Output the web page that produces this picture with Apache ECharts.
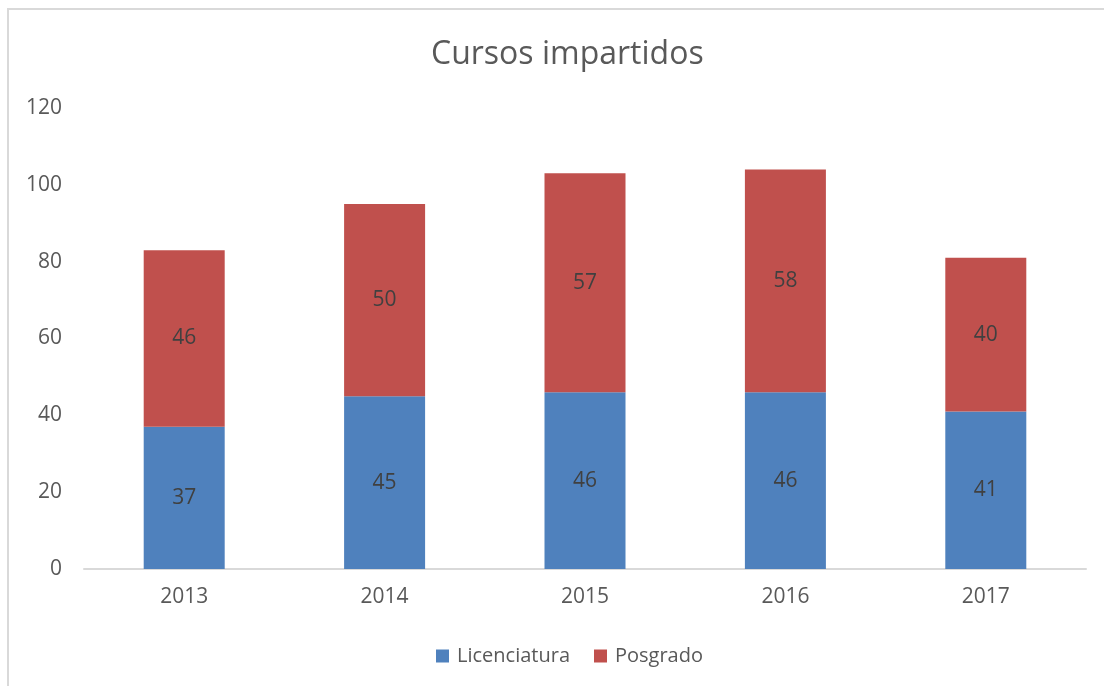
<!DOCTYPE html>
<html lang="es">
<head>
  <meta charset="utf-8"/>
  <title>Cursos impartidos</title>
  <script src="https://cdn.jsdelivr.net/npm/echarts@6/dist/echarts.min.js"></script>
  <style>
    html, body { margin: 0; padding: 0; background: #fff; }
  </style>
</head>
<body>
<div id="main" style="width: 1104px;height: 686px"></div>
<script type="text/javascript">
  // datos del gráfico
  var years = ['2013', '2014', '2015', '2016', '2017'];
  var licenciatura = [37, 45, 46, 46, 41];
  var posgrado = [46, 50, 57, 58, 40];
  var yTicks = [0, 20, 40, 60, 80, 100, 120];

  var font = '"Open Sans", "Liberation Sans", sans-serif';
  var myChart = echarts.init(document.getElementById('main'));

  var labelStyle = {
    show: true,
    position: 'inside',
    color: '#404040',
    fontSize: 21,
    fontFamily: font
  };

  myChart.setOption({
    animation: false,
    title: {
      text: 'Cursos impartidos',
      left: 426,
      top: 34,
      textStyle: { color: '#595959', fontSize: 32, fontWeight: 'normal', fontFamily: font }
    },
    graphic: [{
      type: 'rect',
      shape: { x: 8, y: 9, width: 1200, height: 800 },
      style: { fill: 'none', stroke: '#d9d9d9', lineWidth: 2 },
      silent: true
    }],
    legend: {
      bottom: 15,
      left: 431,
      itemWidth: 13,
      itemHeight: 13,
      itemGap: 24,
      icon: 'rect',
      textStyle: { color: '#595959', fontSize: 20, fontFamily: font, padding: [0, 0, 0, 3] },
      data: ['Licenciatura', 'Posgrado']
    },
    grid: { left: 84, right: 18, top: 108, bottom: 117, containLabel: false },
    xAxis: {
      type: 'category',
      data: years,
      axisLine: { lineStyle: { color: '#d9d9d9', width: 2 } },
      axisTick: { show: false },
      axisLabel: { color: '#595959', fontSize: 21, fontFamily: font, margin: 18 }
    },
    yAxis: {
      type: 'value',
      min: yTicks[0],
      max: yTicks[yTicks.length - 1],
      interval: 20,
      splitLine: { show: false },
      axisLine: { show: false },
      axisTick: { show: false },
      axisLabel: { color: '#595959', fontSize: 21, fontFamily: font, margin: 22 }
    },
    series: [
      {
        name: 'Licenciatura',
        type: 'bar',
        stack: 'total',
        barWidth: 81,
        data: licenciatura,
        itemStyle: { color: '#4f81bd' },
        label: labelStyle
      },
      {
        name: 'Posgrado',
        type: 'bar',
        stack: 'total',
        barWidth: 81,
        data: posgrado,
        itemStyle: { color: '#c0504d' },
        label: labelStyle
      }
    ]
  });
</script>
</body>
</html>
